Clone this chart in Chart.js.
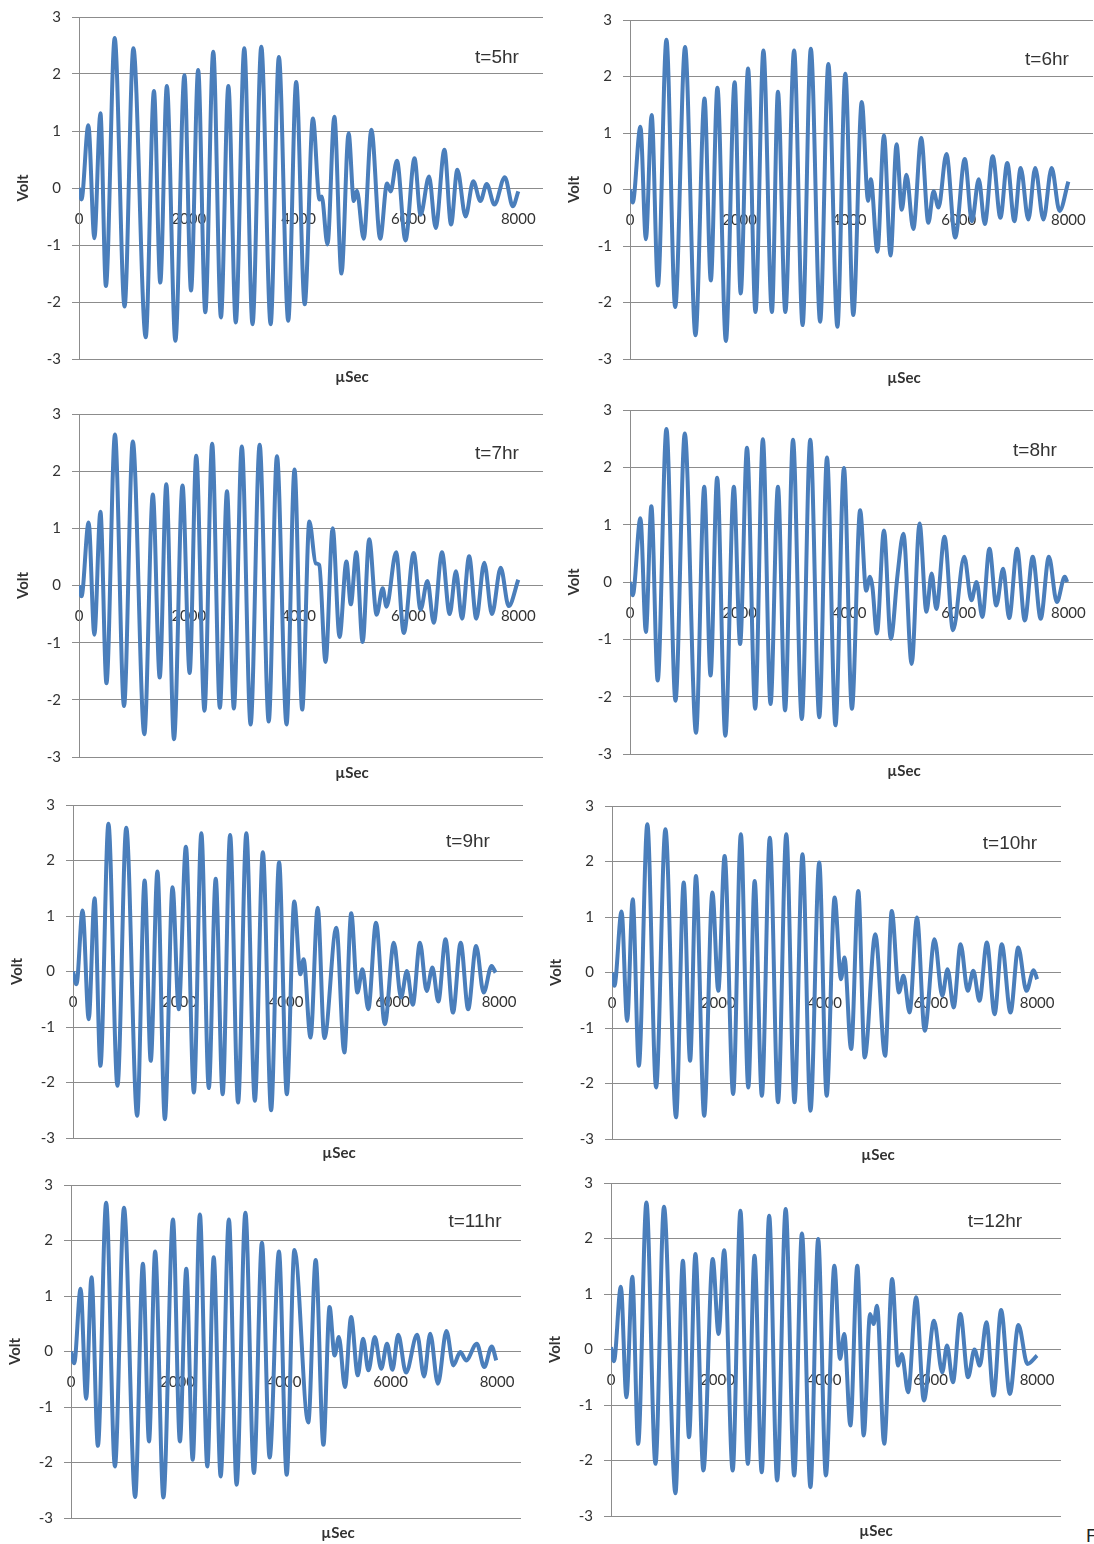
<!DOCTYPE html>
<html lang="en">
<head>
<meta charset="UTF-8">
<title>Volt vs µSec, t=5hr to t=12hr</title>
<script src="https://cdn.jsdelivr.net/npm/chart.js@4"></script>
<style>
  body { margin: 0; background: #fff; }
  #page { position: relative; width: 1094px; height: 1544px; overflow: hidden; background: #fff; }
  #page canvas { position: absolute; }
  .hr {
    position: absolute;
    font-family: "Liberation Sans", Arial, sans-serif;
    font-size: 19px;
    color: #333;
    transform: translate(-50%, -50%);
    white-space: nowrap;
  }
  .unit {
    position: absolute;
    font-family: Lato, "Open Sans", sans-serif;
    font-weight: bold;
    font-size: 15px;
    color: #333;
    transform: translate(-50%, -50%);
    white-space: nowrap;
  }
  .fig {
    position: absolute;
    left: 1086px;
    top: 1525px;
    font-family: "Liberation Sans", Arial, sans-serif;
    font-size: 19px;
    color: #222;
  }
</style>
</head>
<body>
<div id="page">
  <div class="fig">F</div>
</div>

<script>
    // axis ticks shared by all panels
    const xTicks = [0, 2000, 4000, 6000, 8000];
    const yTicks = [-3, -2, -1, 0, 1, 2, 3];
    const panelLabels = ['t=5hr', 't=6hr', 't=7hr', 't=8hr', 't=9hr', 't=10hr', 't=11hr', 't=12hr'];

    // waveform turning points (µSec, Volt) for each hour
    const usec5 = [0, 45, 170, 280, 390, 490, 650, 830, 990, 1215, 1365, 1480, 1600, 1755, 1920, 2040, 2170, 2300, 2445, 2585, 2720, 2855, 3010, 3160, 3320, 3490, 3640, 3810, 3955, 4110, 4260, 4380, 4420, 4525, 4650, 4780, 4910, 5005, 5060, 5185, 5325, 5485, 5610, 5675, 5790, 5945, 6110, 6220, 6375, 6495, 6655, 6775, 6890, 7040, 7180, 7310, 7425, 7565, 7755, 7900, 8000];
    const volt5 = [0, -0.2, 1.1, -0.88, 1.31, -1.72, 2.63, -2.08, 2.45, -2.62, 1.7, -1.66, 1.79, -2.68, 1.98, -1.8, 2.07, -2.18, 2.39, -2.27, 1.79, -2.36, 2.45, -2.39, 2.48, -2.39, 2.3, -2.33, 1.86, -2.04, 1.22, -0.2, -0.15, -0.99, 1.25, -1.5, 0.96, -0.23, -0.05, -0.89, 1.02, -0.89, 0.08, -0.06, 0.48, -0.92, 0.52, -0.47, 0.2, -0.7, 0.67, -0.64, 0.32, -0.5, 0.12, -0.23, 0.07, -0.29, 0.19, -0.32, -0.06];

    const usec6 = [0, 50, 190, 290, 395, 510, 665, 825, 1005, 1195, 1360, 1475, 1595, 1750, 1910, 2020, 2155, 2290, 2435, 2590, 2700, 2835, 2995, 3150, 3300, 3470, 3620, 3785, 3930, 4075, 4230, 4345, 4395, 4515, 4635, 4755, 4865, 4960, 5045, 5170, 5315, 5445, 5540, 5630, 5775, 5935, 6110, 6240, 6365, 6475, 6620, 6760, 6885, 7015, 7130, 7270, 7395, 7545, 7695, 7840, 8000];
    const volt6 = [0, -0.23, 1.11, -0.88, 1.32, -1.7, 2.65, -2.08, 2.52, -2.58, 1.61, -1.61, 1.8, -2.68, 1.9, -1.84, 2.14, -2.17, 2.46, -2.17, 1.73, -2.17, 2.46, -2.4, 2.49, -2.34, 2.22, -2.43, 2.05, -2.22, 1.55, -0.2, 0.18, -1.1, 0.96, -1.17, 0.8, -0.36, 0.26, -0.7, 0.91, -0.59, -0.03, -0.32, 0.63, -0.85, 0.54, -0.56, 0.18, -0.61, 0.59, -0.5, 0.47, -0.56, 0.38, -0.53, 0.38, -0.53, 0.38, -0.38, 0.14];

    const usec7 = [0, 45, 175, 280, 390, 500, 655, 820, 980, 1190, 1345, 1470, 1590, 1730, 1885, 2015, 2135, 2285, 2425, 2565, 2695, 2820, 2965, 3125, 3290, 3455, 3605, 3780, 3925, 4065, 4195, 4310, 4375, 4490, 4620, 4745, 4870, 4950, 5050, 5165, 5285, 5420, 5530, 5600, 5775, 5915, 6095, 6220, 6345, 6460, 6610, 6750, 6865, 6975, 7105, 7235, 7380, 7520, 7680, 7825, 8000];
    const volt7 = [0, -0.19, 1.1, -0.86, 1.29, -1.71, 2.64, -2.11, 2.52, -2.6, 1.59, -1.61, 1.77, -2.69, 1.75, -1.53, 2.27, -2.19, 2.48, -2.14, 1.65, -2.15, 2.43, -2.43, 2.46, -2.38, 2.26, -2.43, 2.03, -2.17, 1.12, 0.39, 0.36, -1.34, 1.0, -0.9, 0.42, -0.33, 0.58, -0.99, 0.81, -0.51, -0.05, -0.37, 0.58, -0.83, 0.57, -0.42, 0.08, -0.65, 0.58, -0.5, 0.25, -0.58, 0.51, -0.58, 0.4, -0.5, 0.31, -0.36, 0.1];

    const usec8 = [0, 50, 190, 290, 390, 505, 665, 830, 1000, 1205, 1355, 1470, 1590, 1740, 1895, 2010, 2135, 2285, 2425, 2565, 2700, 2830, 2975, 3135, 3290, 3455, 3595, 3750, 3905, 4050, 4200, 4310, 4380, 4425, 4505, 4635, 4760, 4885, 4990, 5140, 5285, 5410, 5505, 5590, 5740, 5895, 6100, 6230, 6325, 6430, 6560, 6685, 6810, 6920, 7065, 7205, 7350, 7495, 7645, 7790, 7935, 7980];
    const volt8 = [0, -0.23, 1.11, -0.87, 1.32, -1.72, 2.67, -2.07, 2.59, -2.63, 1.66, -1.63, 1.82, -2.68, 1.66, -1.08, 2.34, -2.21, 2.49, -2.13, 1.66, -2.24, 2.48, -2.39, 2.48, -2.36, 2.17, -2.5, 1.99, -2.21, 1.25, -0.15, 0.09, -0.09, -0.9, 0.9, -0.99, 0.15, 0.84, -1.43, 1.02, -0.52, 0.15, -0.47, 0.79, -0.84, 0.44, -0.32, 0.0, -0.61, 0.58, -0.41, 0.23, -0.63, 0.58, -0.67, 0.44, -0.64, 0.44, -0.35, 0.09, 0.0];

    const usec9 = [0, 65, 180, 295, 405, 515, 665, 835, 1000, 1205, 1345, 1460, 1585, 1725, 1870, 1985, 2120, 2270, 2410, 2550, 2680, 2810, 2950, 3100, 3255, 3415, 3565, 3720, 3870, 4015, 4155, 4270, 4330, 4460, 4595, 4720, 4945, 5095, 5225, 5340, 5435, 5545, 5690, 5855, 6025, 6160, 6270, 6380, 6515, 6640, 6750, 6860, 6995, 7135, 7280, 7420, 7570, 7710, 7860, 7935];
    const volt9 = [0, -0.23, 1.1, -0.86, 1.32, -1.7, 2.66, -2.06, 2.59, -2.6, 1.64, -1.61, 1.8, -2.66, 1.52, -0.68, 2.25, -2.18, 2.49, -2.1, 1.67, -2.21, 2.46, -2.36, 2.49, -2.33, 2.15, -2.5, 1.97, -2.21, 1.26, -0.05, 0.22, -1.19, 1.15, -1.2, 0.79, -1.46, 1.05, -0.38, 0.04, -0.68, 0.88, -0.95, 0.52, -0.47, 0.01, -0.6, 0.52, -0.35, 0.07, -0.54, 0.58, -0.74, 0.52, -0.68, 0.46, -0.38, 0.1, -0.02];

    const usec10 = [0, 45, 180, 285, 390, 505, 665, 830, 1005, 1205, 1350, 1470, 1580, 1735, 1890, 2000, 2120, 2280, 2425, 2565, 2685, 2820, 2970, 3125, 3280, 3435, 3585, 3735, 3900, 4040, 4190, 4310, 4375, 4500, 4635, 4755, 4955, 5140, 5265, 5400, 5485, 5600, 5740, 5885, 6070, 6215, 6315, 6430, 6560, 6695, 6800, 6915, 7055, 7200, 7335, 7500, 7645, 7800, 7935, 8000];
    const volt10 = [0, -0.24, 1.1, -0.87, 1.32, -1.68, 2.67, -2.07, 2.58, -2.61, 1.62, -1.59, 1.74, -2.58, 1.44, -0.33, 2.1, -2.19, 2.49, -2.07, 1.65, -2.22, 2.43, -2.34, 2.49, -2.34, 2.13, -2.49, 1.98, -2.22, 1.35, -0.12, 0.27, -1.38, 1.47, -1.53, 0.69, -1.5, 1.11, -0.36, -0.06, -0.72, 0.99, -1.05, 0.6, -0.42, 0.06, -0.63, 0.51, -0.33, 0.03, -0.51, 0.54, -0.75, 0.51, -0.72, 0.45, -0.33, 0.04, -0.12];

    const usec11 = [0, 60, 180, 285, 385, 505, 660, 825, 995, 1205, 1350, 1465, 1580, 1735, 1915, 2045, 2165, 2285, 2420, 2560, 2680, 2810, 2965, 3110, 3275, 3435, 3585, 3730, 3905, 4050, 4195, 4455, 4595, 4740, 4855, 4950, 5030, 5145, 5260, 5385, 5485, 5585, 5705, 5825, 5935, 6035, 6145, 6290, 6500, 6630, 6745, 6890, 7050, 7180, 7310, 7420, 7620, 7760, 7900, 7985];
    const volt11 = [0, -0.21, 1.13, -0.85, 1.34, -1.7, 2.68, -2.07, 2.59, -2.62, 1.58, -1.62, 1.8, -2.63, 2.38, -1.62, 1.49, -1.95, 2.47, -2.07, 1.7, -2.25, 2.38, -2.4, 2.5, -2.19, 1.96, -1.91, 1.8, -2.22, 1.83, -1.28, 1.65, -1.68, 0.8, -0.07, 0.26, -0.64, 0.62, -0.43, 0.23, -0.34, 0.26, -0.31, 0.14, -0.33, 0.3, -0.38, 0.3, -0.45, 0.32, -0.58, 0.37, -0.25, -0.01, -0.16, 0.14, -0.28, 0.09, -0.16];

    const usec12 = [0, 55, 185, 290, 400, 510, 665, 835, 995, 1210, 1350, 1465, 1585, 1735, 1910, 2020, 2125, 2285, 2430, 2570, 2695, 2830, 2970, 3120, 3280, 3440, 3585, 3745, 3890, 4035, 4195, 4300, 4380, 4495, 4625, 4745, 4865, 4930, 4995, 5130, 5280, 5390, 5460, 5580, 5730, 5875, 6065, 6220, 6310, 6420, 6560, 6705, 6825, 6925, 7050, 7185, 7325, 7490, 7650, 7820, 8000];
    const volt12 = [0.04, -0.21, 1.13, -0.86, 1.31, -1.7, 2.65, -2.06, 2.57, -2.59, 1.6, -1.58, 1.72, -2.18, 1.63, 0.28, 1.79, -2.18, 2.5, -2.06, 1.69, -2.21, 2.41, -2.36, 2.53, -2.27, 2.09, -2.48, 1.99, -2.27, 1.51, -0.17, 0.28, -1.37, 1.51, -1.55, 0.64, 0.46, 0.79, -1.7, 1.27, -0.29, -0.08, -0.77, 0.94, -0.92, 0.52, -0.41, 0.07, -0.59, 0.64, -0.5, 0.0, -0.29, 0.49, -0.83, 0.71, -0.8, 0.44, -0.26, -0.11];

    const timeSets = [usec5, usec6, usec7, usec8, usec9, usec10, usec11, usec12];
    const voltSets = [volt5, volt6, volt7, volt8, volt9, volt10, volt11, volt12];

    // page placement of each plot area: x=0 pixel, x=8000 pixel, y=3 pixel, y=-3 pixel
    const boxes = [
        { left: 79,  x8000: 518,  top: 17,   bottom: 359,  tag: [497, 57],    unit: [352, 376] },
        { left: 630, x8000: 1068, top: 20,   bottom: 359,  tag: [1047, 59],   unit: [904, 377] },
        { left: 79,  x8000: 518,  top: 414,  bottom: 757,  tag: [497, 453],   unit: [352, 772] },
        { left: 630, x8000: 1068, top: 410,  bottom: 754,  tag: [1035, 450],  unit: [904, 770] },
        { left: 73,  x8000: 499,  top: 805,  bottom: 1138, tag: [468, 841],   unit: [339, 1152] },
        { left: 612, x8000: 1037, top: 806,  bottom: 1139, tag: [1010, 843],  unit: [878, 1154] },
        { left: 71,  x8000: 497,  top: 1185, bottom: 1518, tag: [475, 1221],  unit: [338, 1532] },
        { left: 611, x8000: 1037, top: 1183, bottom: 1516, tag: [995, 1221],  unit: [876, 1530] }
    ];

    const X_MAX = 8450;
    const AXIS_W = 70;   // room for tick labels and "Volt"
    const PAD_V = 14;
    const PAD_R = 4;
    const GRID = '#8c8c8c';
    const TEXT = '#333';
    const tickFont = { family: 'Lato, "Open Sans", sans-serif', size: 15 };

    const page = document.getElementById('page');

    function addText(cls, text, pos) {
        const el = document.createElement('div');
        el.className = cls;
        el.textContent = text;
        el.style.left = pos[0] + 'px';
        el.style.top = pos[1] + 'px';
        page.appendChild(el);
    }

    // keep the plot area fixed: no extra room for overhanging tick labels
    function noOverhang(s) {
        s.paddingLeft = 0;
        s.paddingRight = 0;
        s.paddingTop = 0;
        s.paddingBottom = 0;
    }

    function drawPanel(i) {
        const b = boxes[i];
        const plotW = (b.x8000 - b.left) / 8000 * X_MAX;

        const canvas = document.createElement('canvas');
        canvas.width = Math.round(plotW + AXIS_W + PAD_R);
        canvas.height = b.bottom - b.top + 2 * PAD_V;
        canvas.style.left = (b.left - AXIS_W) + 'px';
        canvas.style.top = (b.top - PAD_V) + 'px';
        page.appendChild(canvas);

        const times = timeSets[i];
        const volts = voltSets[i];

        new Chart(canvas, {
            type: 'line',
            data: {
                datasets: [{
                    data: times.map((t, k) => ({ x: t, y: volts[k] })),
                    borderColor: '#4a7ebb',
                    borderWidth: 4,
                    pointRadius: 0,
                    cubicInterpolationMode: 'monotone',
                    fill: false
                }]
            },
            options: {
                responsive: false,
                animation: false,
                devicePixelRatio: 1,
                layout: { padding: { left: 0, right: PAD_R, top: PAD_V, bottom: PAD_V } },
                plugins: {
                    legend: { display: false },
                    tooltip: { enabled: false }
                },
                scales: {
                    x: {
                        type: 'linear',
                        min: 0,
                        max: X_MAX,
                        position: { y: 0 },
                        afterBuildTicks: s => { s.ticks = xTicks.map(v => ({ value: v })); },
                        afterFit: s => { s.height = 0; noOverhang(s); },
                        grid: { display: false, drawTicks: false },
                        border: { display: false },
                        ticks: {
                            padding: 22,
                            autoSkip: false,
                            maxRotation: 0,
                            color: TEXT,
                            font: tickFont,
                            callback: v => String(v)
                        }
                    },
                    y: {
                        min: -3,
                        max: 3,
                        position: 'left',
                        afterBuildTicks: s => { s.ticks = yTicks.map(v => ({ value: v })); },
                        afterFit: s => { s.width = AXIS_W; noOverhang(s); },
                        grid: { color: GRID, lineWidth: 1, drawTicks: true, tickLength: 7 },
                        border: { display: true, color: GRID, width: 1 },
                        ticks: {
                            padding: 11,
                            color: TEXT,
                            font: tickFont,
                            callback: v => String(v)
                        },
                        title: {
                            display: true,
                            text: 'Volt',
                            color: TEXT,
                            font: { family: 'Lato, "Open Sans", sans-serif', size: 15, weight: 'bold' },
                            padding: { top: 5, bottom: 0 }
                        }
                    }
                }
            }
        });

        addText('hr', panelLabels[i], b.tag);
        addText('unit', 'µSec', b.unit);
    }

    for (let i = 0; i < boxes.length; i++) {
        drawPanel(i);
    }
</script>
</body>
</html>
